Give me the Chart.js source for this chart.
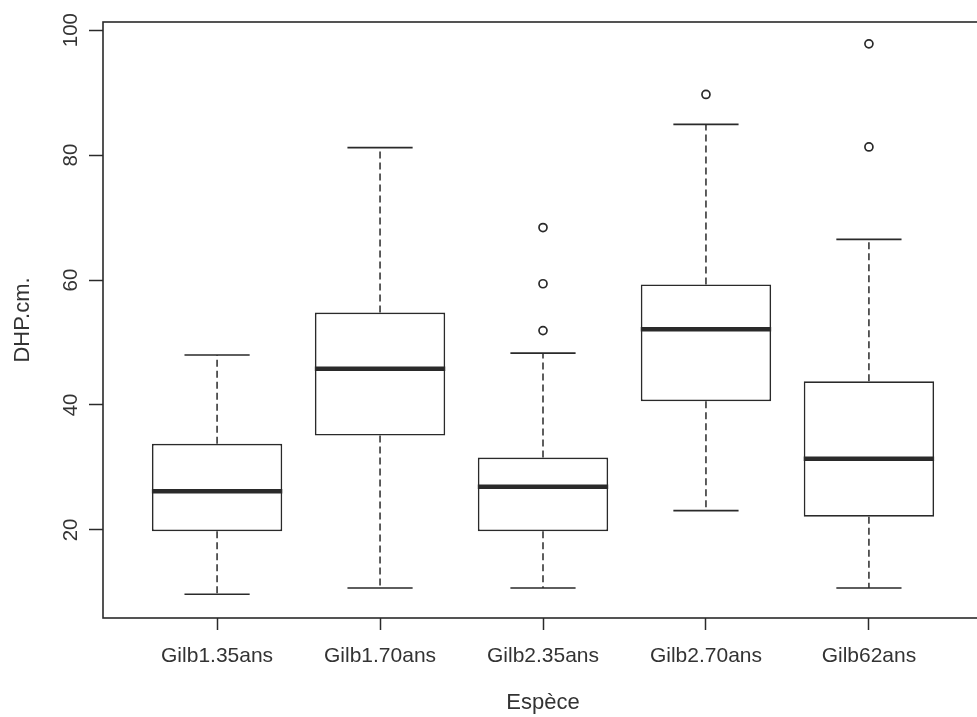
<!DOCTYPE html>
<html>
<head>
<meta charset="utf-8">
<script src="https://cdn.jsdelivr.net/npm/chart.js@4.4.1/dist/chart.umd.min.js"></script>
<style>
  html, body { margin: 0; padding: 0; overflow: hidden; background: #fff; }
</style>
</head>
<body>
<canvas id="boxChart" width="1000" height="717"></canvas>
<script>
// valeurs (DHP en cm)
const categories = ['Gilb1.35ans', 'Gilb1.70ans', 'Gilb2.35ans', 'Gilb2.70ans', 'Gilb62ans'];
const whiskerLow = [9.7, 10.7, 10.7, 23.1, 10.7];
const q1 = [19.8, 35.1, 19.8, 40.6, 22.1];
const median = [26.2, 45.8, 26.9, 52.1, 31.4];
const q3 = [33.8, 54.8, 31.6, 59.3, 43.8];
const whiskerHigh = [48.0, 81.2, 48.3, 84.9, 66.5];
const outliers = [[], [], [51.9, 59.4, 68.4], [89.7], [81.3, 97.8]];
const yTicks = [20, 40, 60, 80, 100];

const ink = '#2a2a2a';
const textColor = '#333';
const fontFamily = '"Liberation Sans", Arial, sans-serif';

// construction des points pour les segments (null = coupure)
const gap = x => ({ x: x, y: null });
const medianPts = [];
const whiskerPts = [];
const capPts = [];
const outlierPts = [];
categories.forEach((c, i) => {
    const x = i + 1;
    medianPts.push({ x: x - 0.4, y: median[i] }, { x: x + 0.4, y: median[i] }, gap(x + 0.45));
    whiskerPts.push({ x: x, y: q3[i] }, { x: x, y: whiskerHigh[i] }, gap(x));
    whiskerPts.push({ x: x, y: q1[i] }, { x: x, y: whiskerLow[i] }, gap(x));
    capPts.push({ x: x - 0.2, y: whiskerHigh[i] }, { x: x + 0.2, y: whiskerHigh[i] }, gap(x + 0.25));
    capPts.push({ x: x - 0.2, y: whiskerLow[i] }, { x: x + 0.2, y: whiskerLow[i] }, gap(x + 0.25));
    outliers[i].forEach(v => outlierPts.push({ x: x, y: v }));
});

// cadre complet autour de la zone du graphique
const framePlugin = {
    id: 'frame',
    afterDatasetsDraw(chart) {
        const a = chart.chartArea;
        const ctx = chart.ctx;
        ctx.save();
        ctx.strokeStyle = ink;
        ctx.lineWidth = 1.6;
        ctx.strokeRect(a.left, a.top, a.right - a.left, a.bottom - a.top);
        ctx.restore();
    }
};

const ctx = document.getElementById('boxChart').getContext('2d');
new Chart(ctx, {
    data: {
        datasets: [
            {
                type: 'line',
                data: medianPts,
                borderColor: ink,
                borderWidth: 4.5,
                pointRadius: 0,
                spanGaps: false,
                order: 0
            },
            {
                type: 'bar',
                data: categories.map((c, i) => ({ x: i + 1, y: [q1[i], q3[i]] })),
                backgroundColor: '#fff',
                borderColor: ink,
                borderWidth: 1.7,
                borderSkipped: false,
                barPercentage: 0.8,
                categoryPercentage: 1,
                order: 1
            },
            {
                type: 'line',
                data: whiskerPts,
                borderColor: ink,
                borderWidth: 1.5,
                borderDash: [7, 4],
                pointRadius: 0,
                spanGaps: false,
                order: 2
            },
            {
                type: 'line',
                data: capPts,
                borderColor: ink,
                borderWidth: 1.7,
                pointRadius: 0,
                spanGaps: false,
                order: 2
            },
            {
                type: 'line',
                data: outlierPts,
                showLine: false,
                pointStyle: 'circle',
                pointRadius: 4,
                pointBorderWidth: 1.7,
                pointBorderColor: ink,
                pointBackgroundColor: '#fff',
                order: 0
            }
        ]
    },
    options: {
        responsive: false,
        animation: false,
        layout: { padding: { top: 22, right: 17, left: 0, bottom: 0 } },
        plugins: {
            legend: { display: false },
            tooltip: { enabled: false }
        },
        scales: {
            x: {
                type: 'linear',
                min: 0.3,
                max: 5.7,
                offset: false,
                afterBuildTicks: axis => { axis.ticks = categories.map((c, i) => ({ value: i + 1 })); },
                afterFit: scale => { scale.height = 99; },
                border: { display: false },
                grid: {
                    offset: false,
                    drawOnChartArea: false,
                    drawTicks: true,
                    tickLength: 12,
                    tickColor: ink,
                    tickWidth: 1.5
                },
                ticks: {
                    color: textColor,
                    font: { family: fontFamily, size: 21 },
                    padding: 14,
                    maxRotation: 0,
                    autoSkip: false,
                    callback: v => categories[v - 1]
                },
                title: {
                    display: true,
                    text: 'Espèce',
                    color: textColor,
                    font: { family: fontFamily, size: 22 },
                    padding: { top: 0, bottom: 1 }
                }
            },
            y: {
                min: 5.9,
                max: 101.3,
                afterBuildTicks: axis => { axis.ticks = yTicks.map(v => ({ value: v })); },
                afterFit: scale => { scale.width = 103; },
                border: { display: false },
                grid: {
                    drawOnChartArea: false,
                    drawTicks: true,
                    tickLength: 14,
                    tickColor: ink,
                    tickWidth: 1.5
                },
                ticks: {
                    color: textColor,
                    font: { family: fontFamily, size: 20.5 },
                    padding: 1,
                    minRotation: 90,
                    maxRotation: 90,
                    crossAlign: 'center'
                },
                title: {
                    display: true,
                    text: 'DHP.cm.',
                    color: textColor,
                    font: { family: fontFamily, size: 22 },
                    padding: { top: 10, bottom: 0 }
                }
            }
        }
    },
    plugins: [framePlugin]
});
</script>
</body>
</html>
